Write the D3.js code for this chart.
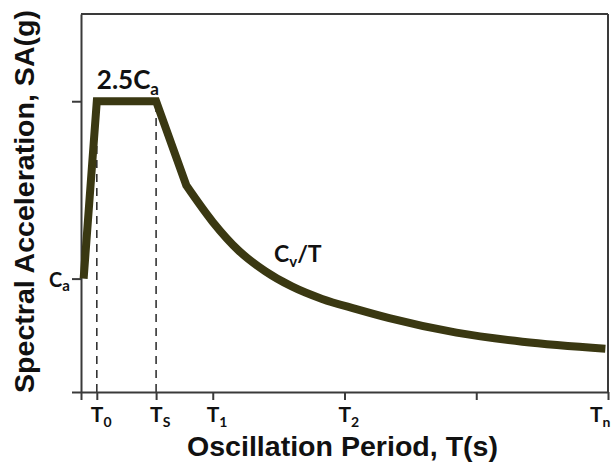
<!DOCTYPE html>
<html>
<head>
<meta charset="utf-8">
<script src="https://cdn.jsdelivr.net/npm/d3@7"></script>
<style>
  html, body { margin: 0; padding: 0; background: #fff; }
  svg { display: block; }
</style>
</head>
<body>
<script>
// ---- data ----
// rising branch + plateau + first segment of the descending branch (straight lines)
const periodT    = [0.02, 0.12, 0.57, 0.80, 1.00, 1.20, 1.40, 1.60, 1.83, 2.09, 2.34, 2.85, 3.35, 3.98];
const spectralSA = [0.39, 1.00, 1.00, 0.71, 0.585, 0.485, 0.415, 0.363, 0.32, 0.285, 0.254, 0.204, 0.173, 0.149];
const straightCount = 4;   // first points joined by straight segments, rest is a smooth curve
const xTicks     = [0, 0.12, 0.57, 1, 2, 3, 4];
const xTickSub   = ["", "0", "S", "1", "2", "", "n"];
const yTicks     = [0, 0.39, 1.0];
const markerT    = [0.12, 0.57];
const plateauSA  = 1.0;

const W = 613, H = 467;
const margin = {left: 81, right: 5, top: 14, bottom: 75};

const svg = d3.select("body").append("svg")
  .attr("width", W).attr("height", H);

const x = d3.scaleLinear().domain([0, 4]).range([margin.left, W - margin.right]);
const y = d3.scaleLinear().domain([0, 1.3]).range([H - margin.bottom, margin.top]);

const axisColor = "#3a3a3a";
const labelFont = "Lato, 'Open Sans', sans-serif";
const titleFont = "'Liberation Sans', Arial, sans-serif";

// dashed marker lines
svg.selectAll("line.marker").data(markerT).enter().append("line")
  .attr("class", "marker")
  .attr("x1", d => x(d)).attr("x2", d => x(d))
  .attr("y1", y(0)).attr("y2", y(plateauSA * 0.97))
  .attr("stroke", "#333").attr("stroke-width", 1.6)
  .attr("stroke-dasharray", "8,6");

// frame (top and right)
svg.append("line")
  .attr("x1", x(0)).attr("x2", x(4)).attr("y1", y(1.3)).attr("y2", y(1.3))
  .attr("stroke", axisColor).attr("stroke-width", 2);
svg.append("line")
  .attr("x1", x(4)).attr("x2", x(4)).attr("y1", y(1.3)).attr("y2", y(0))
  .attr("stroke", axisColor).attr("stroke-width", 2);

// axes
const xAxis = svg.append("g")
  .attr("transform", `translate(0,${y(0)})`)
  .call(d3.axisBottom(x).tickValues(xTicks).tickSize(8).tickSizeOuter(0).tickFormat(""));
const yAxis = svg.append("g")
  .attr("transform", `translate(${x(0)},0)`)
  .call(d3.axisLeft(y).tickValues(yTicks).tickSize(9).tickSizeOuter(0).tickFormat(""));
[xAxis, yAxis].forEach(g => {
  g.select(".domain").attr("stroke", axisColor).attr("stroke-width", 2);
  g.selectAll(".tick line").attr("stroke", axisColor).attr("stroke-width", 2);
});

// x tick labels (T with subscripts)
xTicks.forEach((t, i) => {
  if (!xTickSub[i]) return;
  const isLast = i === xTicks.length - 1;
  const tx = svg.append("text")
    .attr("x", isLast ? x(t) - 18 : x(t) - 6)
    .attr("y", 422)
    .attr("font-family", labelFont).attr("font-weight", "bold")
    .attr("font-size", 21).attr("fill", "#111");
  tx.append("tspan").text("T");
  tx.append("tspan").attr("dy", 5).attr("font-size", 14).text(xTickSub[i]);
});

// spectrum curve: straight part + smooth Cv/T part in one path
const pts = periodT.map((t, i) => [t, spectralSA[i]]);
const lineStraight = d3.line().x(d => x(d[0])).y(d => y(d[1])).curve(d3.curveLinear);
const lineSmooth   = d3.line().x(d => x(d[0])).y(d => y(d[1])).curve(d3.curveMonotoneX);
const dA = lineStraight(pts.slice(0, straightCount));
const dB = lineSmooth(pts.slice(straightCount - 1)).replace(/^M[^A-Za-z]+/, "");
svg.append("path")
  .attr("d", dA + dB)
  .attr("fill", "none")
  .attr("stroke", "#3a3812")
  .attr("stroke-width", 8)
  .attr("stroke-linejoin", "miter")
  .attr("stroke-linecap", "butt");

// annotations
function subLabel(px, py, main, sub, size, subSize, extra) {
  const t = svg.append("text")
    .attr("x", px).attr("y", py)
    .attr("font-family", labelFont).attr("font-weight", "bold")
    .attr("font-size", size).attr("fill", "#111");
  t.append("tspan").text(main);
  t.append("tspan").attr("dy", size * 0.22).attr("font-size", subSize).text(sub);
  if (extra) t.append("tspan").attr("dy", -size * 0.22).text(extra);
  return t;
}
subLabel(x(0.12), 89, "2.5C", "a", 26, 17);
subLabel(49, 287, "C", "a", 20, 15);
subLabel(274, 262, "C", "v", 23, 15, "/T");

// axis titles
svg.append("text")
  .attr("transform", `translate(34,${(10 + 393) / 2}) rotate(-90)`)
  .attr("text-anchor", "middle")
  .attr("font-family", titleFont).attr("font-weight", "bold")
  .attr("font-size", 28).attr("fill", "#111")
  .attr("textLength", 383).attr("lengthAdjust", "spacingAndGlyphs")
  .text("Spectral Acceleration, SA(g)");

svg.append("text")
  .attr("x", (187 + 498) / 2).attr("y", 456)
  .attr("text-anchor", "middle")
  .attr("font-family", titleFont).attr("font-weight", "bold")
  .attr("font-size", 27).attr("fill", "#111")
  .attr("textLength", 311).attr("lengthAdjust", "spacingAndGlyphs")
  .text("Oscillation Period, T(s)");
</script>
</body>
</html>
